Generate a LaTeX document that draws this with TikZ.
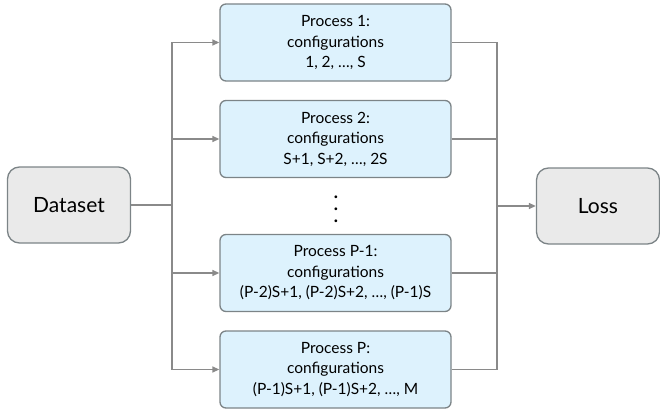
\documentclass[tikz,border=0pt]{standalone}
\usepackage{fontspec}
\setmainfont{Lato}
\usetikzlibrary{arrows.meta}
\definecolor{procfill}{HTML}{DDF2FD}
\definecolor{greyfill}{HTML}{EAEAEA}
\definecolor{edgecol}{HTML}{7C8487}
\definecolor{linecol}{HTML}{8A8A8A}
\tikzset{
  proc/.style={draw=edgecol, fill=procfill, line width=1.3pt, rounded corners=6pt,
    minimum width=231pt, minimum height=77pt, align=center, font=\fontsize{15.5}{20.5}\selectfont, inner sep=0pt},
  term/.style={draw=edgecol, fill=greyfill, line width=1.3pt, rounded corners=12pt,
    minimum width=123pt, minimum height=76pt, align=center, font=\fontsize{21}{24}\selectfont, inner sep=0pt},
  conn/.style={draw=linecol, line width=1.4pt},
  arr/.style={conn, -{Triangle[length=7pt,width=6pt]}},
  dotn/.style={font=\fontsize{22}{22}\selectfont, inner sep=0pt}
}
\begin{document}
\begin{tikzpicture}[x=1pt,y=-1pt]
\useasboundingbox (0,0) rectangle (660,412);
\node[term] (data) at (69,205) {Dataset};
\node[term] (loss) at (598,206) {Loss};
\node[proc] (p1) at (335.5,42.5) {Process 1:\\configurations\\1, 2, \dots, S};
\node[proc] (p2) at (335.5,139) {Process 2:\\configurations\\S+1, S+2, \dots, 2S};
\node[proc] (pp1) at (335.5,273) {Process P-1:\\configurations\\(P-2)S+1, (P-2)S+2, \dots, (P-1)S};
\node[proc] (pp) at (335.5,369.5) {Process P:\\configurations\\(P-1)S+1, (P-1)S+2, \dots, M};
\node[dotn] (d1) at (336,197.5) {.};
\node[dotn] (d2) at (336,209.5) {.};
\node[dotn] (d3) at (336,221.5) {.};
\coordinate (tl) at (172,205);
\coordinate (tr) at (497,206);
\draw[conn] (data.east) -- (tl);
\draw[conn] (tl|-p1.west) -- (tl|-pp.west);
\foreach \n in {p1,p2,pp1,pp} {
  \draw[arr] (tl|-\n.west) -- (\n.west);
  \draw[conn] (\n.east) -- (tr|-\n.east);
}
\draw[conn] (tr|-p1.east) -- (tr|-pp.east);
\draw[arr] (tr) -- (loss.west);
\end{tikzpicture}
\end{document}
